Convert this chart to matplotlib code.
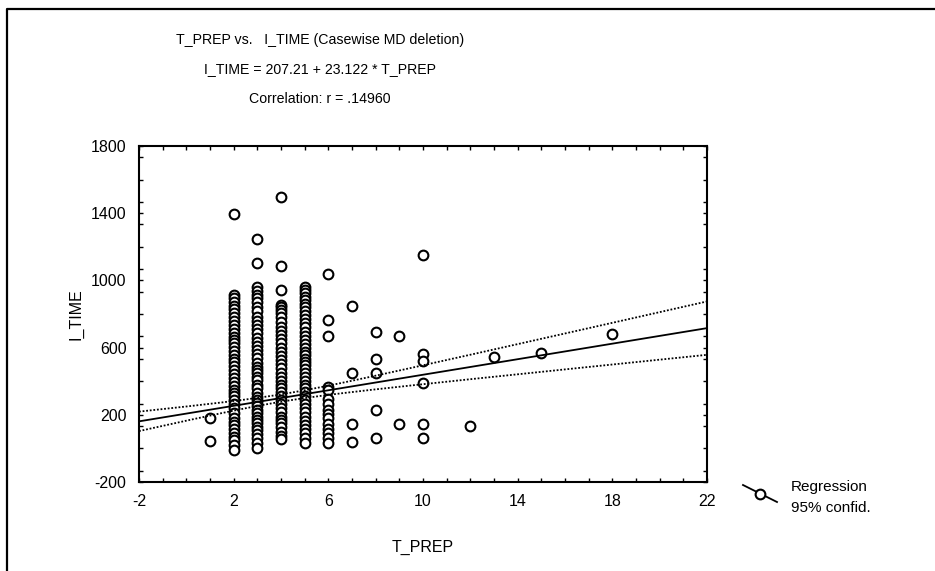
import numpy as np
import matplotlib
matplotlib.use("Agg")
import matplotlib.pyplot as plt
from matplotlib.lines import Line2D
from matplotlib.ticker import MultipleLocator

plt.rcParams['font.family'] = ['Liberation Sans', 'DejaVu Sans']
plt.rcParams['axes.unicode_minus'] = False

# data: I_TIME values for each T_PREP value
t_prep_levels = [1, 2, 3, 4, 5, 6, 7, 8, 9, 10, 12, 13, 15, 18]
i_time_1 = [179, 44]
i_time_2 = [1395, 913, 893, 873, 850, 828, 805, 784, 760, 734, 710, 685, 665, 645, 625,
            605, 580, 556, 535, 516, 490, 467, 440, 417, 395, 371, 350, 328, 310, 288,
            262, 238, 210, 179, 160, 139, 115, 90, 70, 50, 20, -10]
i_time_3 = [1246, 1101, 959, 935, 913, 893, 870, 844, 815, 784, 760, 734, 710, 685, 660,
            635, 610, 586, 560, 536, 510, 486, 465, 447, 425, 407, 380, 357, 330, 308,
            288, 268, 250, 229, 210, 189, 170, 149, 130, 110, 85, 60, 30, 0]
i_time_4 = [1498, 1088, 943, 853, 840, 824, 805, 784, 755, 724, 700, 675, 650, 625, 600,
            576, 550, 526, 500, 477, 450, 427, 400, 377, 358, 338, 310, 288, 262, 238,
            215, 189, 170, 149, 125, 100, 75, 54]
i_time_5 = [959, 940, 923, 903, 883, 860, 840, 815, 794, 770, 744, 720, 695, 670, 645,
            620, 596, 575, 556, 535, 516, 495, 473, 450, 427, 400, 377, 358, 338, 310,
            288, 262, 238, 215, 189, 165, 139, 115, 90, 60, 30]
i_time_6 = [1038, 764, 671, 367, 345, 292, 262, 229, 205, 180, 145, 115, 90, 60, 30]
i_time_7 = [848, 451, 145, 40]
i_time_8 = [691, 534, 451, 229, 64]
i_time_9 = [671, 145]
i_time_10 = [1153, 560, 520, 387, 145, 64]
i_time_12 = [135]
i_time_13 = [546]
i_time_15 = [566]
i_time_18 = [681]

x_ticks = [-2, 2, 6, 10, 14, 18, 22]
y_ticks = [-200, 200, 600, 1000, 1400, 1800]

# regression from the chart header, band from summary statistics
intercept = 207.21
slope = 23.122
n_cases = 560
mean_t_prep = 4.1
sd_t_prep = 2.5
resid_sd = 265.0
t_crit = 1.96

columns = [i_time_1, i_time_2, i_time_3, i_time_4, i_time_5, i_time_6, i_time_7,
           i_time_8, i_time_9, i_time_10, i_time_12, i_time_13, i_time_15, i_time_18]
x = np.concatenate([[lvl] * len(v) for lvl, v in zip(t_prep_levels, columns)])
y = np.concatenate(columns)

fig = plt.figure(figsize=(9.35, 5.71), dpi=100)
ax = fig.add_axes([139 / 935, 89 / 571, 568 / 935, 336 / 571])

xs = np.linspace(-2, 22, 200)
fit = intercept + slope * xs
sxx = (n_cases - 1) * sd_t_prep ** 2
half = t_crit * resid_sd * np.sqrt(1 / n_cases + (xs - mean_t_prep) ** 2 / sxx)

ax.plot(x, y, 'o', mfc='white', mec='black', mew=1.5, ms=7, zorder=2)
ax.plot(xs, fit, color='black', lw=1.3, zorder=3)
ax.plot(xs, fit + half, color='black', lw=1.3, ls=(0, (1, 1)), zorder=3)
ax.plot(xs, fit - half, color='black', lw=1.3, ls=(0, (1, 1)), zorder=3)

ax.set_xlim(-2, 22)
ax.set_ylim(-200, 1800)
ax.set_xticks(x_ticks)
ax.set_yticks(y_ticks)
ax.xaxis.set_minor_locator(MultipleLocator(1))
ax.yaxis.set_minor_locator(MultipleLocator(400 / 3))
ax.tick_params(which='both', direction='in', top=True, right=True, width=1, color='black')
ax.tick_params(which='major', length=3, labelsize=11.5, pad=9)
ax.tick_params(which='minor', length=3)
for s in ax.spines.values():
    s.set_linewidth(1.5)

ax.set_xlabel("T_PREP", fontsize=11.5, labelpad=22)
ax.set_ylabel("I_TIME", fontsize=11.5, labelpad=5)

# header lines
fig.text(320 / 935, 1 - 40 / 571, "T_PREP vs.   I_TIME (Casewise MD deletion)",
         ha='center', va='center', fontsize=10.2)
fig.text(320 / 935, 1 - 69 / 571, "I_TIME = 207.21 + 23.122 * T_PREP",
         ha='center', va='center', fontsize=10.2)
fig.text(320 / 935, 1 - 99 / 571, "Correlation: r = .14960",
         ha='center', va='center', fontsize=10.2)

# legend
fig.add_artist(Line2D([743 / 935, 777 / 935], [1 - 485 / 571, 1 - 502 / 571],
                      color='black', lw=1.3))
fig.add_artist(Line2D([760 / 935], [1 - 494 / 571], marker='o', mfc='white',
                      mec='black', mew=1.5, ms=7))
fig.text(791 / 935, 1 - 487 / 571, "Regression", ha='left', va='center', fontsize=11)
fig.text(791 / 935, 1 - 508 / 571, "95% confid.", ha='left', va='center', fontsize=11)

# outer frame (top and left edges)
fig.add_artist(Line2D([7 / 935, 7 / 935, 1.0], [0.0, 1 - 9 / 571, 1 - 9 / 571],
                      color='black', lw=1.6))

fig.savefig("out.png", dpi=100)
